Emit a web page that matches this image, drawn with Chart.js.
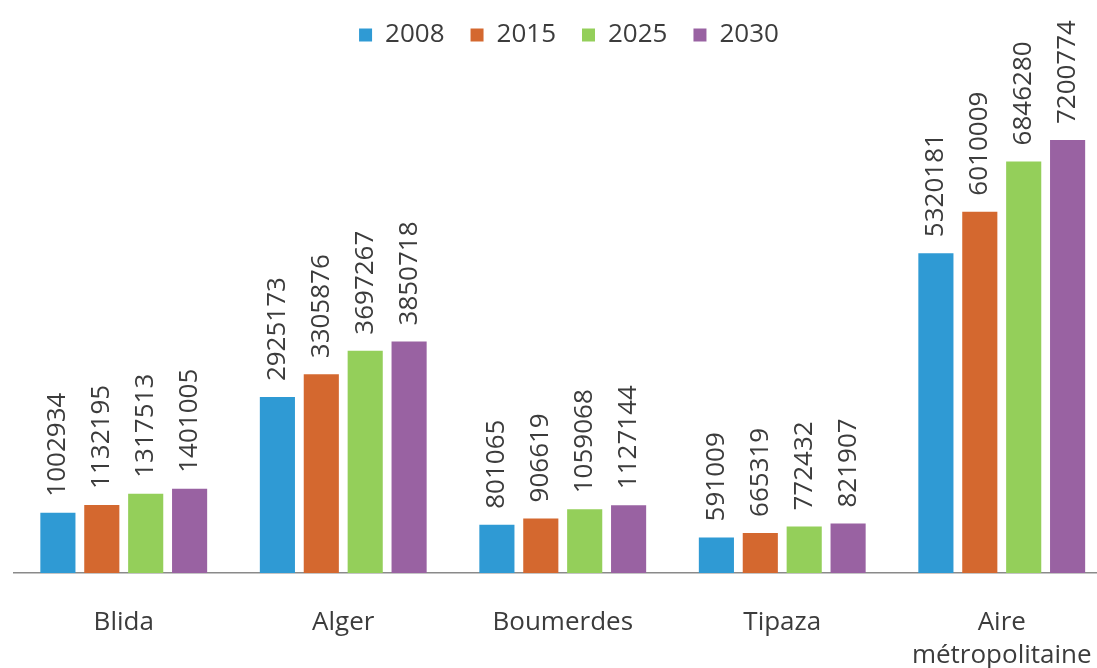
<!DOCTYPE html>
<html>
<head>
<meta charset="utf-8">
<script src="https://cdn.jsdelivr.net/npm/chart.js@4"></script>
<style>
  html, body { margin: 0; padding: 0; background: #ffffff; overflow: hidden; }
  #wrap { width: 1126px; height: 705px; position: relative; }
</style>
</head>
<body>
<div id="wrap"><canvas id="c"></canvas></div>
<script>
const categories = ['Blida', 'Alger', 'Boumerdes', 'Tipaza', ['Aire', 'métropolitaine']];
const seriesNames = ['2008', '2015', '2025', '2030'];
const values2008 = [1002934, 2925173, 801065, 591009, 5320181];
const values2015 = [1132195, 3305876, 906619, 665319, 6010009];
const values2025 = [1317513, 3697267, 1059068, 772432, 6846280];
const values2030 = [1401005, 3850718, 1127144, 821907, 7200774];
const seriesColors = ['#2f9ad4', '#d4682f', '#94cf5a', '#9962a2'];
const yMax = 8500000;

const textColor = '#3c3c3c';
const fontFamily = "'Open Sans', 'DejaVu Sans', sans-serif";
Chart.defaults.font.family = fontFamily;
Chart.defaults.color = textColor;

const valueLabels = {
  id: 'valueLabels',
  afterDatasetsDraw(chart) {
    const ctx = chart.ctx;
    ctx.save();
    ctx.font = '26px ' + fontFamily;
    ctx.fillStyle = textColor;
    ctx.textAlign = 'left';
    ctx.textBaseline = 'middle';
    chart.data.datasets.forEach((ds, di) => {
      const meta = chart.getDatasetMeta(di);
      meta.data.forEach((el, i) => {
        ctx.save();
        ctx.translate(el.x, el.y - 16);
        ctx.rotate(-Math.PI / 2);
        ctx.fillText(String(ds.data[i]), 0, 0);
        ctx.restore();
      });
    });
    ctx.restore();
  }
};

const legendShift = {
  id: 'legendShift',
  afterLayout(chart) {
    const lg = chart.legend;
    if (!lg) return;
    lg.left += 6; lg.right += 6;
    lg.top -= 4; lg.bottom -= 4;
  }
};

const allValues = [values2008, values2015, values2025, values2030];

new Chart(document.getElementById('c'), {
  type: 'bar',
  data: {
    labels: categories,
    datasets: seriesNames.map((name, k) => ({
      label: name,
      data: allValues[k],
      backgroundColor: seriesColors[k],
      borderWidth: 0,
      categoryPercentage: 0.8,
      barPercentage: 0.8
    }))
  },
  options: {
    responsive: true,
    maintainAspectRatio: false,
    animation: false,
    layout: { padding: { left: 14, right: 14, top: 0, bottom: 0 } },
    plugins: {
      legend: {
        position: 'top',
        labels: {
          font: { size: 26 },
          color: textColor,
          boxWidth: 13,
          boxHeight: 13,
          padding: 26
        }
      },
      tooltip: { enabled: false }
    },
    scales: {
      x: {
        grid: { display: false, drawTicks: false },
        border: { display: true, color: '#8a8a8a', width: 1.5 },
        ticks: {
          font: { size: 26, lineHeight: 1.27 },
          color: textColor,
          padding: 33,
          maxRotation: 0,
          autoSkip: false
        }
      },
      y: {
        display: false,
        min: 0,
        max: yMax
      }
    }
  },
  plugins: [valueLabels, legendShift]
});
</script>
</body>
</html>
